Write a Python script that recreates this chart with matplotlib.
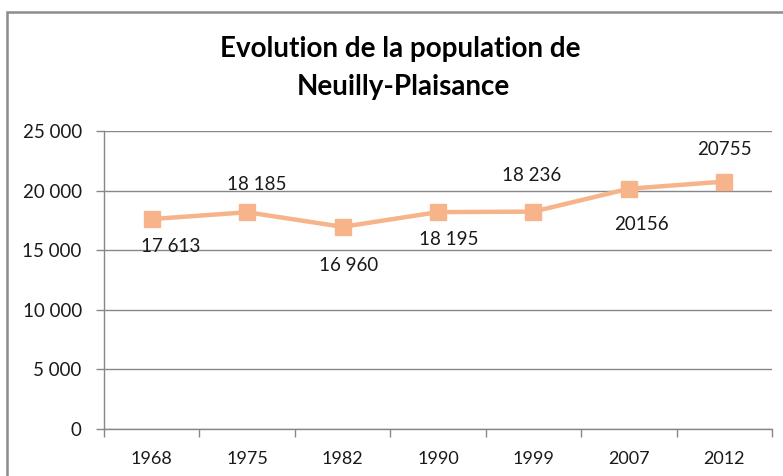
import matplotlib.pyplot as plt
from matplotlib.patches import Rectangle
from matplotlib.ticker import FuncFormatter, FixedLocator

# population data
years = ['1968', '1975', '1982', '1990', '1999', '2007', '2012']
population = [17613, 18185, 16960, 18195, 18236, 20156, 20755]
point_labels = ['17 613', '18 185', '16 960', '18 195', '18 236', '20156', '20755']
# label offsets in points (dx, dy)
label_offsets = [(14, -20), (7, 20), (4, -28), (8, -20), (-1, 26), (9, -26), (0, 23)]

line_color = '#F7B38A'
grid_color = '#878787'

plt.rcParams['font.family'] = ['Lato', 'DejaVu Sans']

fig = plt.figure(figsize=(7.83, 4.76), dpi=100)
fig.patch.set_facecolor('white')

# chart frame, runs off the right and bottom edge
fig.patches.append(Rectangle((7 / 783, -0.1), 1.2, 1 - 12 / 476 + 0.1,
                             transform=fig.transFigure, fill=False,
                             edgecolor='#8C8C8C', linewidth=1.8))

ax = fig.add_axes([104 / 783, 47 / 476, 668 / 783, 298 / 476])
x = list(range(len(years)))
ax.plot(x, population, color=line_color, linewidth=3.2, marker='s',
        markersize=12, markerfacecolor=line_color, markeredgecolor=line_color,
        zorder=3)

for xi, val, txt, off in zip(x, population, point_labels, label_offsets):
    ax.annotate(txt, (xi, val), xytext=off, textcoords='offset points',
                ha='center', va='center', fontsize=13.5, color='#1a1a1a')

ax.set_xlim(-0.5, len(years) - 0.5)
ax.set_ylim(0, 25000)
ax.set_yticks(range(0, 25001, 5000))
ax.yaxis.set_major_formatter(FuncFormatter(lambda v, p: f'{int(v):,}'.replace(',', ' ')))
ax.grid(axis='y', color=grid_color, linewidth=1)
ax.set_axisbelow(True)

ax.set_xticks(x)
ax.set_xticklabels(years)
ax.xaxis.set_minor_locator(FixedLocator([i - 0.5 for i in range(len(years) + 1)]))
ax.tick_params(axis='x', which='major', length=0, pad=16, labelsize=13, labelcolor='#1a1a1a')
ax.tick_params(axis='x', which='minor', length=6, color=grid_color, width=1)
ax.tick_params(axis='y', length=6, color=grid_color, width=1, pad=10,
               labelsize=13.5, labelcolor='#1a1a1a')

for side in ['top', 'right']:
    ax.spines[side].set_visible(False)
for side in ['left', 'bottom']:
    ax.spines[side].set_color(grid_color)
    ax.spines[side].set_linewidth(1)

fig.text(400 / 783, 1 - 49 / 476, 'Evolution de la population de',
         ha='center', va='center', fontsize=20, fontweight='bold', color='black')
fig.text(403 / 783, 1 - 87 / 476, 'Neuilly-Plaisance',
         ha='center', va='center', fontsize=20, fontweight='bold', color='black')

fig.savefig('out.png', dpi=100)
